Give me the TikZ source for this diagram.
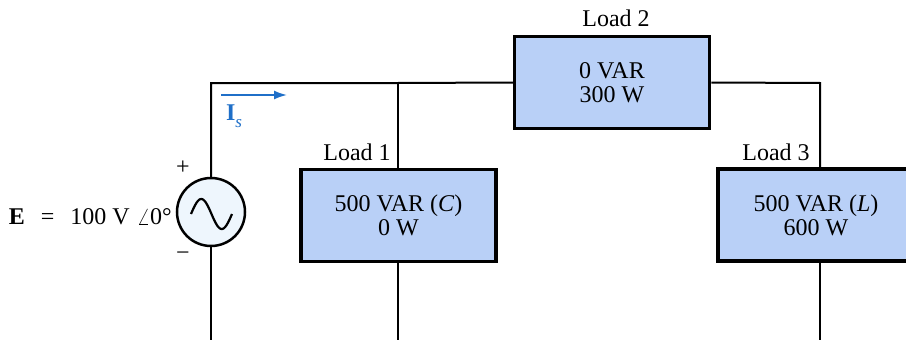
\documentclass[tikz,border=0pt]{standalone}
\usepackage{fontspec}
\setmainfont{Liberation Serif}
\usetikzlibrary{arrows.meta}
\definecolor{boxfill}{HTML}{B9D0F7}
\definecolor{srcfill}{HTML}{EEF6FD}
\definecolor{curblue}{HTML}{1F6FC8}
\begin{document}
\begin{tikzpicture}[x=1pt,y=-1pt,
  wire/.style={line width=2pt},
  loadbox/.style={draw,line width=3.5pt,fill=boxfill,minimum width=195pt,minimum height=92pt,inner sep=0pt,align=center,font=\fontsize{24}{24}\selectfont},
  lbl/.style={font=\fontsize{24}{24}\selectfont,inner sep=0pt}]
\useasboundingbox (0,0) rectangle (906,340);
\clip (0,0) rectangle (906,340);
% nodes
\node[loadbox] (L2) at (612,82.5) {0 VAR\\300 W};
\node[loadbox] (L1) at (398.5,215.5) {500 VAR (\textit{C})\\0 W};
\node[loadbox,minimum width=196pt] (L3) at (816,215) {500 VAR (\textit{L})\\600 W};
\node[circle,draw,line width=2.5pt,fill=srcfill,minimum size=68pt,inner sep=0pt] (S) at (211,212) {};
\coordinate (tl) at (211,83);
\coordinate (j1) at (398,83);
\coordinate (tr) at (820,83);
\coordinate (bs) at (211,342);
\coordinate (b1) at (398,342);
\coordinate (b3) at (820,342);
% wires
\draw[wire] (S.north) -- (tl) -- (j1) -- (L2.west);
\draw[wire] (j1) -- (L1.north -| j1);
\draw[wire] (L2.east) -- (tr) -- (tr |- L3.north);
\draw[wire] (S.south) -- (bs);
\draw[wire] (L1.south -| b1) -- (b1);
\draw[wire] (L3.south -| b3) -- (b3);
% sine
\draw[line width=2.2pt] plot[domain=0:360,samples=50,smooth] ({191+\x/360*41},{214-15*sin(\x)});
% labels
\node[lbl] (l2) at (616,18) {Load 2};
\node[lbl] (l1) at (357,152) {Load 1};
\node[lbl] (l3) at (776,152) {Load 3};
\node[lbl,anchor=east] (E) at (172,217) {\textbf{E}\hspace{16pt}=\hspace{16pt}100 V\hspace{7pt}$\angle$0°};
\node[lbl] (plus) at (183,168) {+};
\node[lbl] (minus) at (183,256) {\textminus};
% current
\coordinate (ia) at (221,95);
\coordinate (ib) at (287,95);
\draw[curblue,line width=1.8pt,-{Latex[length=13pt,width=9pt]}] (ia) -- (ib);
\node[lbl,text=curblue] (Is) at (234,116) {\textbf{I}\raisebox{-0.3em}{\fontsize{17}{17}\selectfont\textit{s}}};
\end{tikzpicture}
\end{document}
